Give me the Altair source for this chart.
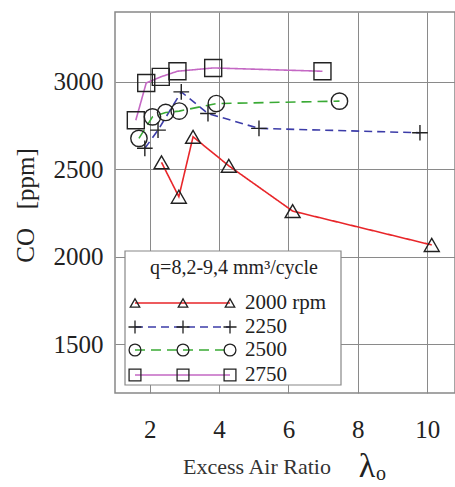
import altair as alt
import pandas as pd

# Measured CO emissions versus excess air ratio, one series per engine speed
series_names = ["2000 rpm", "2250", "2500", "2750"]

lam_2000 = [2.34, 2.84, 3.25, 4.28, 6.12, 10.13]
co_2000 = [2540, 2343, 2686, 2520, 2261, 2067]

lam_2250 = [1.86, 2.24, 2.91, 3.68, 5.15, 9.79]
co_2250 = [2620, 2724, 2943, 2819, 2734, 2709]

lam_2500 = [1.69, 2.08, 2.46, 2.85, 3.92, 7.47]
co_2500 = [2677, 2800, 2825, 2833, 2876, 2890]

lam_2750 = [1.60, 1.90, 2.32, 2.80, 3.83, 6.98]
co_2750 = [2781, 2994, 3029, 3061, 3080, 3061]

x_ticks = [2, 4, 6, 8, 10]
y_ticks = [1500, 2000, 2500, 3000]

line_colors = ["#e8262a", "#3c3ca8", "#3aaa35", "#c468c4"]
line_dashes = [[1, 0], [8, 5], [10, 6], [1, 0]]
plus_path = "M-1,0L1,0M0,-1L0,1"
marker_shapes = ["triangle-up", plus_path, "circle", "square"]
marker_sizes = [225, 289, 324, 324]
legend_sizes = [90, 170, 140, 140]

FONT = "Liberation Serif, Times New Roman, serif"
W, H = 340, 381
NBSP = "\u00a0"

rows = []
for name, xs, ys in [
    (series_names[0], lam_2000, co_2000),
    (series_names[1], lam_2250, co_2250),
    (series_names[2], lam_2500, co_2500),
    (series_names[3], lam_2750, co_2750),
]:
    for i, (x, y) in enumerate(zip(xs, ys)):
        rows.append({"series": name, "lam": x, "co": y, "idx": i})
df = pd.DataFrame(rows)

x_enc = alt.X(
    "lam:Q",
    scale=alt.Scale(domain=[1.0, 10.8], nice=False, zero=False),
    axis=alt.Axis(
        values=x_ticks, title=None, grid=True, ticks=False, domain=False,
        labelFont=FONT, labelFontSize=25, labelColor="#222",
        labelPadding=24, gridColor="#8a8a8a", gridWidth=1,
    ),
)
y_enc = alt.Y(
    "co:Q",
    scale=alt.Scale(domain=[1220, 3400], nice=False, zero=False),
    axis=alt.Axis(
        values=y_ticks, format="d", title="CO" + NBSP * 3 + "[ppm]",
        grid=True, ticks=False, domain=False,
        labelFont=FONT, labelFontSize=25, labelColor="#222", labelPadding=12,
        gridColor="#8a8a8a", gridWidth=1,
        titleFont=FONT, titleFontSize=25, titleFontWeight="normal",
        titleColor="#222", titleAngle=270, titleAlign="center",
        titleBaseline="alphabetic", titleX=-82, titleY=193,
    ),
)

color_scale = alt.Scale(domain=series_names, range=line_colors)
dash_scale = alt.Scale(domain=series_names, range=line_dashes)
shape_scale = alt.Scale(domain=series_names, range=marker_shapes)
size_scale = alt.Scale(domain=series_names, range=marker_sizes)

lines = alt.Chart(df).mark_line(strokeWidth=1.6).encode(
    x=x_enc, y=y_enc,
    color=alt.Color("series:N", scale=color_scale, legend=None),
    strokeDash=alt.StrokeDash("series:N", scale=dash_scale, legend=None),
    order="idx:Q",
)

points = alt.Chart(df).mark_point(filled=False, color="#222", strokeWidth=1.4, opacity=1).encode(
    x="lam:Q", y="co:Q",
    shape=alt.Shape("series:N", scale=shape_scale, legend=None),
    size=alt.Size("series:N", scale=size_scale, legend=None),
)

# Hand-built legend box (pixel positions inside the plot area)
legend_box = alt.Chart(pd.DataFrame({"a": [0]})).mark_rect(
    fill="white", stroke="#888", strokeWidth=1.2
).encode(x=alt.value(10), x2=alt.value(226), y=alt.value(239), y2=alt.value(373))

legend_title = alt.Chart(pd.DataFrame({"a": [0]})).mark_text(
    text="q=8,2-9,4 mm³/cycle", font=FONT, fontSize=20, color="#222",
    align="center", baseline="alphabetic",
).encode(x=alt.value(119), y=alt.value(262))

row_y = [291, 315, 338, 363]
sym_x = [20, 68, 115]
leg_line_rows, leg_pt_rows, leg_txt_rows = [], [], []
for k, name in enumerate(series_names):
    leg_line_rows.append({"series": name, "x1": sym_x[0], "x2": sym_x[-1], "py": row_y[k]})
    leg_txt_rows.append({"series": name, "px": 130, "py": row_y[k]})
    for sx in sym_x:
        leg_pt_rows.append({"series": name, "px": sx, "py": row_y[k], "sz": legend_sizes[k]})

legend_lines = alt.Chart(pd.DataFrame(leg_line_rows)).mark_rule(strokeWidth=1.6).encode(
    x=alt.X("x1:Q", scale=None), x2="x2:Q",
    y=alt.Y("py:Q", scale=None),
    color=alt.Color("series:N", scale=color_scale, legend=None),
    strokeDash=alt.StrokeDash("series:N", scale=dash_scale, legend=None),
)
legend_pts = alt.Chart(pd.DataFrame(leg_pt_rows)).mark_point(
    filled=False, color="#222", strokeWidth=1.3, opacity=1
).encode(
    x=alt.X("px:Q", scale=None), y=alt.Y("py:Q", scale=None),
    shape=alt.Shape("series:N", scale=shape_scale, legend=None),
    size=alt.Size("sz:Q", scale=None, legend=None),
)
legend_txt = alt.Chart(pd.DataFrame(leg_txt_rows)).mark_text(
    font=FONT, fontSize=21, color="#222", align="left", baseline="middle"
).encode(
    x=alt.X("px:Q", scale=None), y=alt.Y("py:Q", scale=None), text="series:N",
)

# X axis title with the lambda symbol drawn separately
x_title = alt.Chart(pd.DataFrame({"a": [0]})).mark_text(
    text="Excess Air Ratio", font=FONT, fontSize=22, color="#333",
    align="center", baseline="alphabetic",
).encode(x=alt.value(142), y=alt.value(462))
lam_sym = alt.Chart(pd.DataFrame({"a": [0]})).mark_text(
    text="λ", font=FONT, fontSize=34, color="#222",
    align="center", baseline="alphabetic",
).encode(x=alt.value(252), y=alt.value(465))
lam_sub = alt.Chart(pd.DataFrame({"a": [0]})).mark_text(
    text="o", font=FONT, fontSize=20, color="#222",
    align="left", baseline="alphabetic",
).encode(x=alt.value(261), y=alt.value(468))

chart = alt.layer(
    lines, points, legend_box, legend_title, legend_lines, legend_pts, legend_txt,
    x_title, lam_sym, lam_sub,
).properties(
    width=W, height=H,
    autosize=alt.AutoSizeParams(type="none"),
    padding={"left": 115, "top": 12, "right": 0, "bottom": 94},
    background="white",
).configure_view(
    stroke="#888", strokeWidth=1.5
)

chart.save("out.html", embed_options={"renderer": "svg", "actions": False})
